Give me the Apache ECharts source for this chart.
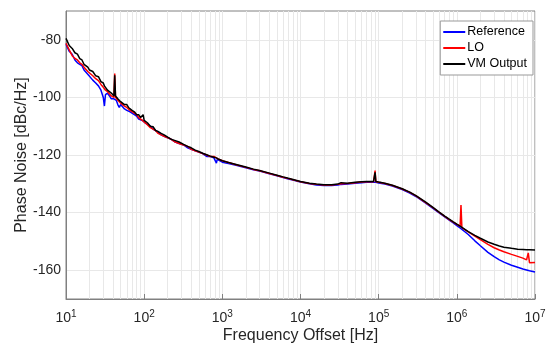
<!DOCTYPE html>
<html>
<head>
<meta charset="utf-8">
<script src="https://cdn.jsdelivr.net/npm/echarts@6/dist/echarts.min.js"></script>
<style>
  html, body { margin: 0; padding: 0; background: #fff; }
  #chart { width: 546px; height: 345px; }
</style>
</head>
<body>
<div id="chart"></div>
<script>
// frequency offsets [Hz] shared by all three traces
const freq = [
  10, 11, 12, 13, 14, 15, 16, 17, 18, 19, 20,
  22, 24, 26, 28, 30, 31, 32, 34, 36, 38, 40, 41, 42, 43, 44, 46, 48, 50,
  53, 56, 60, 63, 66, 70, 75, 80, 85, 90, 95, 97, 100,
  105, 110, 120, 130, 140, 150, 165, 180, 200, 220, 250, 280, 320, 360, 400, 450, 500, 560, 630, 700, 780, 820, 840, 860, 900, 1000,
  1200, 1500, 2000, 2500, 3000, 4000, 5000, 6000, 7000, 8000, 10000,
  13000, 16000, 20000, 25000, 30000, 33000, 35000, 40000, 50000, 60000, 70000, 80000, 86000, 88000, 90000, 92000, 95000, 100000,
  120000, 150000, 200000, 250000, 300000, 400000, 500000, 600000, 700000, 800000, 900000, 1000000,
  1100000, 1130000, 1160000, 1400000, 1700000, 2000000, 2500000, 3000000, 3500000, 4000000, 5000000, 6000000, 7000000, 7800000, 8200000, 8500000, 9000000, 10000000
]

// phase noise [dBc/Hz]
const reference = [
  -81.5, -84, -85, -87, -88, -88.5, -89, -90.5, -91, -92, -92.5,
  -94, -95, -96, -97.5, -100, -103, -99, -98.5, -99.5, -100.5, -100, -100.5, -100.5, -101, -101, -102.5, -103.5, -102.5,
  -103, -104, -104.5, -104, -105, -105.5, -106, -106.5, -107.5, -108, -108, -108.5, -108.5,
  -109, -109, -110, -111, -111.5, -112, -113, -113.5, -114, -114.5, -115.5, -116, -116.5, -117.5, -118, -118.5, -119, -119.5, -120.5, -120.5, -121, -121.5, -122.8, -121.5, -121.5, -122.5,
  -123, -123.6, -124.4, -125.1, -125.6, -126.5, -127.2, -127.8, -128.3, -128.7, -129.4,
  -130, -130.4, -130.6, -130.6, -130.4, -130.2, -130.2, -130.1, -129.8, -129.6, -129.5, -129.5, -129.5, -129.5, -129.5, -129.5, -129.6, -129.7,
  -130.1, -130.8, -132, -133.2, -134.4, -136.7, -138.6, -140.2, -141.5, -142.6, -143.6, -144.5,
  -145.3, -145.5, -145.8, -147.6, -149.8, -151.5, -153.8, -155.3, -156.4, -157.2, -158.3, -159, -159.6, -159.9, -160, -160.2, -160.4, -160.6
]

const lo = [
  -81.2, -83.5, -85.5, -86.5, -87, -88, -88.5, -89.5, -90, -91, -91.5,
  -92.5, -93.5, -94.2, -95.5, -96.5, -96.8, -97.5, -98, -98.5, -99.5, -99.5, -100, -91.7, -100, -100.5, -101, -101.5, -102,
  -102.5, -103, -103.5, -104, -104.5, -105, -105.5, -106, -107, -107.5, -108, -108, -108.5,
  -109, -109.5, -110.5, -111, -111.5, -112.5, -113, -113.5, -114, -114.5, -115.5, -116, -116.5, -117, -118, -118.5, -119, -119.5, -120, -120.5, -120.5, -121, -121, -121, -121.5, -122,
  -122.6, -123.4, -124.3, -125, -125.5, -126.4, -127.1, -127.7, -128.2, -128.6, -129.3,
  -129.9, -130.2, -130.4, -130.4, -130.2, -130, -130, -129.9, -129.6, -129.4, -129.3, -129.3, -129.3, -129.3, -125.4, -129.3, -129.4, -129.5,
  -129.9, -130.6, -131.8, -133, -134.2, -136.5, -138.4, -140, -141.3, -142.4, -143.3, -144.1,
  -144.8, -137.4, -145.2, -146.7, -148.2, -149.4, -151, -152.2, -153, -153.6, -154.5, -155.2, -155.8, -156.4, -154, -157.4, -157.4, -157.3
]

const vmOutput = [
  -79.5, -82, -83, -84.5, -85, -86.5, -87, -88.5, -89, -89.5, -90.5,
  -91, -92.5, -92.8, -94.5, -95, -96, -96, -97.5, -97, -98.5, -99, -99.5, -92.3, -99.5, -100, -100.5, -100, -101.5,
  -102, -102.5, -102.5, -103.5, -104, -104.5, -105, -106, -106, -107, -107.5, -106, -108,
  -108.5, -108.8, -110, -110.2, -111.5, -111.8, -112.5, -113, -113.8, -114.5, -115, -115.5, -116.3, -117, -117.5, -118.3, -118.8, -119.4, -119.9, -120.4, -120.8, -121, -121, -121.3, -121.5, -122,
  -122.6, -123.3, -124.2, -124.9, -125.4, -126.3, -127, -127.6, -128.1, -128.5, -129.2,
  -129.8, -130.1, -130.3, -130.3, -130.1, -129.6, -129.9, -129.8, -129.5, -129.3, -129.2, -129.2, -129.2, -129.2, -126, -129.2, -129.3, -129.4,
  -129.8, -130.5, -131.7, -132.9, -134.1, -136.4, -138.3, -139.9, -141.2, -142.3, -143.2, -144,
  -144.7, -144.9, -145.1, -146.6, -147.9, -148.9, -150.2, -151, -151.6, -152, -152.4, -152.7, -152.8, -152.9, -152.9, -152.9, -153, -153
]

const seriesNames = ['Reference', 'LO', 'VM Output']
const seriesColors = ['#0000ff', '#ff0000', '#000000']

// minor grid positions 2..9 x 10^k (matlab style log grid)
const minorGrid = []
for (let k = 1; k < 7; k++) {
  for (let m = 2; m <= 9; m++) {
    minorGrid.push({ xAxis: m * Math.pow(10, k) })
  }
}

const chart = echarts.init(document.getElementById('chart'), null, { renderer: 'canvas' })

const font = 'Liberation Sans, Arial, Helvetica, sans-serif'
const axisColor = '#808080'
const textColor = '#262626'
const gridColor = '#e8e8e8'

const series = [reference, lo, vmOutput].map((vals, i) => ({
  name: seriesNames[i],
  type: 'line',
  data: freq.map((f, j) => [f, vals[j]]),
  showSymbol: false,
  symbol: 'none',
  lineStyle: { color: seriesColors[i], width: 1.5 },
  itemStyle: { color: seriesColors[i] },
  z: 3 + i,
  animation: false
}))

series.unshift({
  name: 'grid',
  type: 'line',
  data: [],
  z: 1,
  silent: true,
  markLine: {
    silent: true,
    z: 1,
    symbol: 'none',
    animation: false,
    label: { show: false },
    emphasis: { disabled: true },
    lineStyle: { color: gridColor, type: 'solid', width: 1 },
    data: minorGrid
  }
})

const option = {
  animation: false,
  textStyle: { fontFamily: font },
  grid: {
    left: 66,
    right: 11,
    top: 11,
    bottom: 46,
    outerBoundsMode: 'none',
    containLabel: false,
    show: true,
    borderColor: axisColor,
    borderWidth: 1
  },
  legend: {
    data: seriesNames,
    orient: 'vertical',
    right: 13,
    top: 21,
    z: 10,
    padding: [4, 6, 4, 3],
    icon: 'rect',
    itemGap: 2,
    itemWidth: 22,
    itemHeight: 2,
    backgroundColor: '#fff',
    borderColor: '#999',
    borderWidth: 1,
    borderRadius: 0,
    textStyle: { fontFamily: font, fontSize: 12.5, color: '#000', lineHeight: 14, padding: [0, 0, 0, -3] }
  },
  xAxis: {
    type: 'log',
    logBase: 10,
    min: 10,
    max: 10000000,
    name: 'Frequency Offset [Hz]',
    nameLocation: 'middle',
    nameGap: 29,
    nameMoveOverlap: false,
    nameTextStyle: { fontFamily: font, fontSize: 16, color: textColor },
    axisLine: { show: true, lineStyle: { color: axisColor } },
    axisTick: { show: true, inside: true, length: 5, lineStyle: { color: axisColor } },
    splitLine: { show: true, lineStyle: { color: gridColor } },
    axisLabel: {
      margin: 10,
      color: textColor,
      formatter: v => '{b|10}{s|' + Math.round(Math.log10(v)) + '}',
      rich: {
        b: { fontFamily: font, fontSize: 14, color: textColor },
        s: { fontFamily: font, fontSize: 10, color: textColor, padding: [0, 0, 8, 0] }
      }
    }
  },
  yAxis: {
    type: 'value',
    min: -170,
    max: -70,
    interval: 10,
    name: 'Phase Noise [dBc/Hz]',
    nameLocation: 'middle',
    nameGap: 36,
    nameMoveOverlap: false,
    nameTextStyle: { fontFamily: font, fontSize: 16, color: textColor },
    axisLine: { show: true, lineStyle: { color: axisColor } },
    axisTick: { show: false },
    splitLine: { show: true, lineStyle: { color: ['transparent', gridColor] } },
    axisLabel: {
      margin: 5,
      fontFamily: font,
      fontSize: 14,
      color: textColor,
      formatter: v => (v % 20 === 0 ? String(v) : '')
    }
  },
  series: series
}

chart.setOption(option)
</script>
</body>
</html>
